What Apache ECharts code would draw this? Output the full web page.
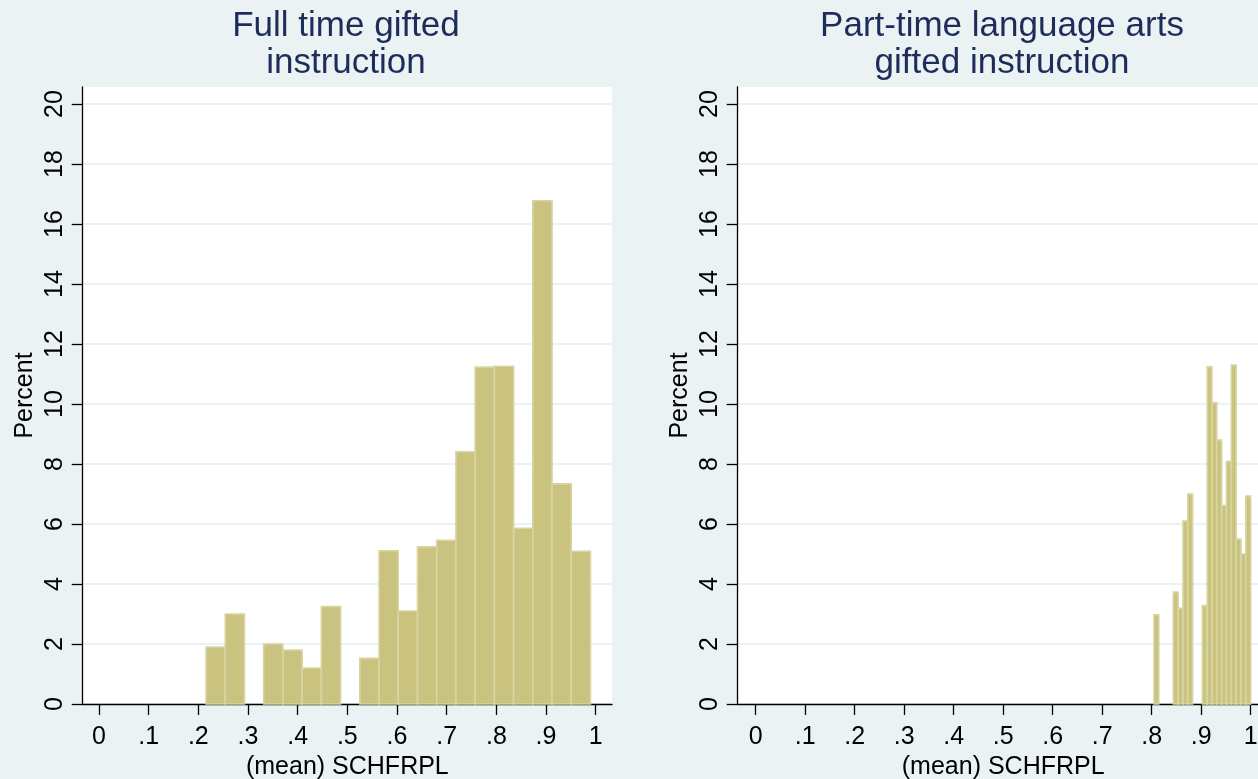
<!DOCTYPE html>
<html>
<head>
<meta charset="utf-8">
<script src="https://cdn.jsdelivr.net/npm/echarts@6/dist/echarts.min.js"></script>
<style>
html,body{margin:0;padding:0;background:#eaf2f3;}
#chart{width:1258px;height:779px;}
</style>
</head>
<body>
<div id="chart"></div>
<script>
// ---- Data ----
const leftTitle = 'Full time gifted\ninstruction';
const rightTitle = 'Part-time language arts\ngifted instruction';
const xAxisTitle = '(mean) SCHFRPL';
const yAxisTitle = 'Percent';

const xTicks = [0, 0.1, 0.2, 0.3, 0.4, 0.5, 0.6, 0.7, 0.8, 0.9, 1];
const yTicks = [0, 2, 4, 6, 8, 10, 12, 14, 16, 18, 20];

// Left histogram: 20 bins
const leftBinStart = 0.2155;
const leftBinWidth = 0.0387;
const leftPercent = [1.9, 3.0, 0, 2.0, 1.8, 1.2, 3.25, 0, 1.52, 5.11,
                     3.1, 5.24, 5.46, 8.41, 11.23, 11.26, 5.86, 16.78, 7.34, 5.09];

// Right histogram: 20 bins
const rightBinStart = 0.8046;
const rightBinWidth = 0.00977;
const rightPercent = [2.97, 0, 0, 0, 3.73, 3.19, 6.1, 7.0, 0, 0,
                      3.28, 11.24, 10.04, 8.8, 6.62, 8.09, 11.3, 5.5, 5.0, 6.93];

// ---- Build ----
function bins(start, width, vals) {
  return vals.map((v, i) => [start + i * width, start + (i + 1) * width, v]);
}

const FONT = 'Liberation Sans, Arial, Helvetica, sans-serif';
const BG = '#eaf2f3';
const BAR_FILL = '#c9c37f';
const BAR_LINE = '#d9d5a2';

function fmtX(v) {
  if (v === 0) return '0';
  if (v === 1) return '1';
  return '.' + Math.round(v * 10);
}

function renderBar(params, api) {
  const y = api.value(2);
  if (!y) return null;
  const p0 = api.coord([api.value(0), y]);
  const p1 = api.coord([api.value(1), 0]);
  return {
    type: 'rect',
    shape: { x: p0[0], y: p0[1], width: p1[0] - p0[0], height: p1[1] - p0[1] },
    style: { fill: BAR_FILL, stroke: BAR_LINE, lineWidth: 1.6 }
  };
}

function xAxisCfg(gridIndex, min, max) {
  return {
    type: 'value', gridIndex, min, max,
    name: xAxisTitle, nameLocation: 'middle', nameGap: 49,
    nameTextStyle: { color: '#000', fontSize: 25, fontFamily: FONT },
    axisLine: { show: true, onZero: false, lineStyle: { color: '#000', width: 1.3 } },
    axisTick: { show: true, customValues: xTicks, length: 11, lineStyle: { color: '#000', width: 1.3 } },
    axisLabel: { customValues: xTicks, formatter: fmtX, margin: 21, color: '#000', fontSize: 25, fontFamily: FONT },
    splitLine: { show: false }
  };
}

function yAxisCfg(gridIndex) {
  return {
    type: 'value', gridIndex, min: 0, max: 20.57, interval: 2,
    name: yAxisTitle, nameLocation: 'middle', nameGap: 45,
    nameTextStyle: { color: '#000', fontSize: 25, fontFamily: FONT },
    axisLine: { show: true, onZero: false, lineStyle: { color: '#000', width: 1.3 } },
    axisTick: { show: true, customValues: yTicks, length: 11, lineStyle: { color: '#000', width: 1.3 } },
    axisLabel: { customValues: yTicks, rotate: 90, margin: 15, color: '#000', fontSize: 25, fontFamily: FONT },
    splitLine: { show: true, lineStyle: { color: BG, width: 2 } }
  };
}

const chart = echarts.init(document.getElementById('chart'), null, { renderer: 'canvas' });
chart.setOption({
  backgroundColor: BG,
  animation: false,
  title: [
    { text: leftTitle, left: 341, top: 3, textAlign: 'center',
      textStyle: { color: '#1e2c59', fontSize: 35, fontWeight: 'normal', fontFamily: FONT, lineHeight: 37 } },
    { text: rightTitle, left: 997, top: 3, textAlign: 'center',
      textStyle: { color: '#1e2c59', fontSize: 35, fontWeight: 'normal', fontFamily: FONT, lineHeight: 37 } }
  ],
  grid: [
    { left: 82.7, top: 87, width: 529.3, height: 617, show: true, backgroundColor: '#fff', borderWidth: 0,
      containLabel: false, outerBoundsMode: 'none' },
    { left: 737.7, top: 87, width: 531, height: 617, show: true, backgroundColor: '#fff', borderWidth: 0,
      containLabel: false, outerBoundsMode: 'none' }
  ],
  xAxis: [xAxisCfg(0, -0.0328, 1.0328), xAxisCfg(1, -0.0364, 1.0364)],
  yAxis: [yAxisCfg(0), yAxisCfg(1)],
  series: [
    { type: 'custom', xAxisIndex: 0, yAxisIndex: 0, renderItem: renderBar,
      encode: { x: [0, 1], y: 2 }, data: bins(leftBinStart, leftBinWidth, leftPercent) },
    { type: 'custom', xAxisIndex: 1, yAxisIndex: 1, renderItem: renderBar,
      encode: { x: [0, 1], y: 2 }, data: bins(rightBinStart, rightBinWidth, rightPercent) }
  ]
});
</script>
</body>
</html>
